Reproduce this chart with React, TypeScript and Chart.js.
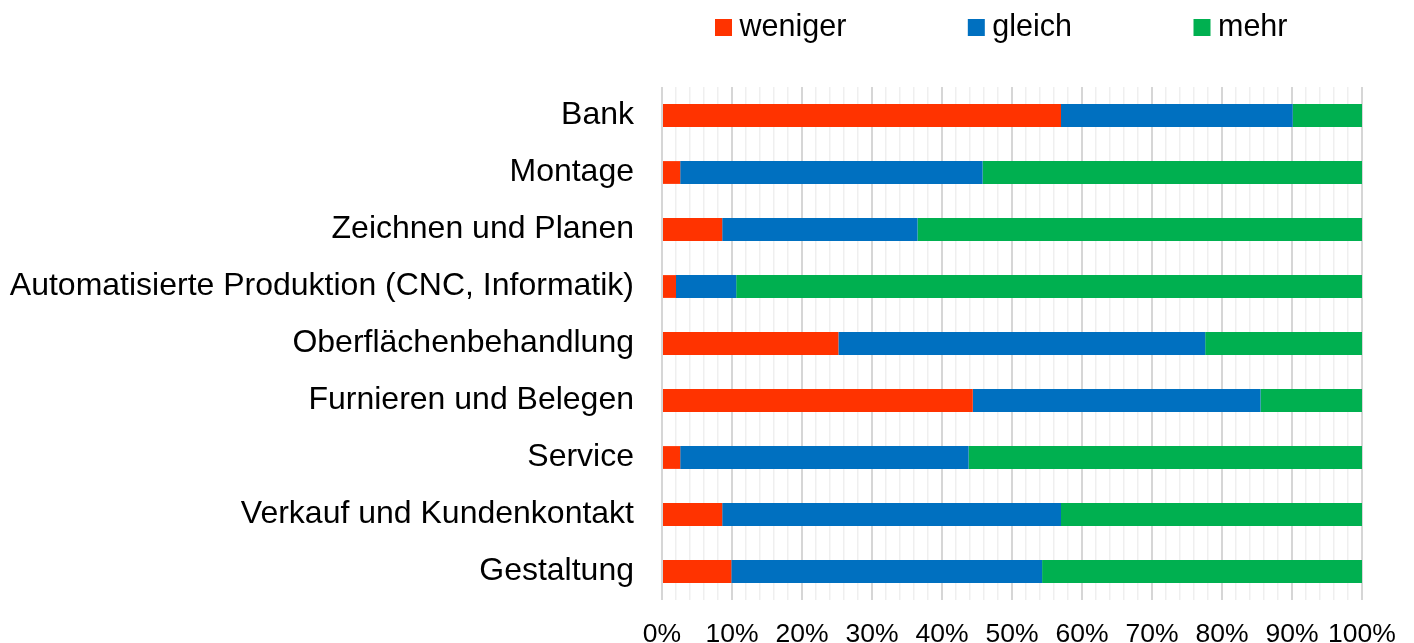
import React, { useEffect, useRef } from "react";
import { Chart, registerables } from "chart.js";

Chart.register(...registerables);

const categories = [
  "Bank",
  "Montage",
  "Zeichnen und Planen",
  "Automatisierte Produktion (CNC, Informatik)",
  "Oberflächenbehandlung",
  "Furnieren und Belegen",
  "Service",
  "Verkauf und Kundenkontakt",
  "Gestaltung",
];

const weniger = [57.0, 2.6, 8.6, 2.0, 25.2, 44.4, 2.6, 8.6, 9.9];
const gleich = [33.1, 43.2, 27.9, 8.6, 52.4, 41.1, 41.2, 48.4, 44.4];
const mehr = [9.9, 54.2, 63.5, 89.4, 22.4, 14.5, 56.2, 43.0, 45.7];

const seriesNames = ["weniger", "gleich", "mehr"];
const seriesColors = ["#FF3300", "#0070C0", "#00B050"];

const xTickLabels = ["0%", "10%", "20%", "30%", "40%", "50%", "60%", "70%", "80%", "90%", "100%"];

const FONT = "'Liberation Sans', Arial, Helvetica, sans-serif";

const customLegend = {
  id: "customLegend",
  afterDraw(chart: any) {
    const ctx = chart.ctx;
    const { left, top } = chart.chartArea;
    ctx.save();
    ctx.font = `30.5px ${FONT}`;
    ctx.textBaseline = "alphabetic";
    ctx.textAlign = "left";
    const box = 17;
    const baseY = top - 51;
    let x = left + 53;
    chart.data.datasets.forEach((ds: any) => {
      ctx.fillStyle = ds.backgroundColor;
      ctx.fillRect(x, baseY - box, box, box);
      ctx.fillStyle = "#000000";
      ctx.fillText(ds.label, x + box + 7.5, baseY);
      x += box + 7.5 + ctx.measureText(ds.label).width + 121.5;
    });
    ctx.restore();
  },
};

export default function App() {
  const canvasRef = useRef<HTMLCanvasElement | null>(null);

  useEffect(() => {
    if (!canvasRef.current) return;
    const seriesData = [weniger, gleich, mehr];
    const chart = new Chart(canvasRef.current, {
      type: "bar",
      data: {
        labels: categories,
        datasets: seriesNames.map((name, i) => ({
          label: name,
          data: seriesData[i],
          backgroundColor: seriesColors[i],
          borderWidth: 0,
          barPercentage: 0.4,
          categoryPercentage: 1.0,
        })),
      },
      options: {
        indexAxis: "y",
        responsive: false,
        animation: false,
        layout: { padding: { top: 79, right: 44, left: 0, bottom: 0 } },
        plugins: {
          legend: { display: false },
          tooltip: { enabled: false },
        },
        scales: {
          x: {
            stacked: true,
            min: 0,
            max: 100,
            ticks: {
              stepSize: 2,
              autoSkip: false,
              maxRotation: 0,
              minRotation: 0,
              padding: 19,
              color: "#000000",
              font: { family: FONT, size: 26.5 },
              callback: (v: any) => {
                const n = Number(v);
                return n % 10 === 0 ? xTickLabels[n / 10] : "";
              },
            },
            grid: {
              drawTicks: false,
              color: (c: any) => (c.tick && c.tick.value % 10 === 0 ? "#d6d6d6" : "#efefef"),
              lineWidth: (c: any) => (c.tick && c.tick.value % 10 === 0 ? 2 : 1.5),
            },
            border: { display: false },
            afterFit: (s: any) => {
              s.height = 43;
              s.paddingLeft = 0;
              s.paddingRight = 0;
            },
          },
          y: {
            stacked: true,
            ticks: {
              autoSkip: false,
              padding: 28,
              color: "#000000",
              font: { family: FONT, size: 32 },
            },
            grid: { display: false, drawTicks: false },
            border: { display: false },
            afterFit: (s: any) => {
              s.width = 654;
              s.paddingTop = 0;
              s.paddingBottom = 0;
            },
          },
        },
      },
      plugins: [customLegend],
    });
    return () => chart.destroy();
  }, []);

  return (
    <div style={{ width: 1398, height: 635 }}>
      <canvas
        ref={canvasRef}
        width={1398}
        height={635}
        style={{ display: "block", width: 1398, height: 635 }}
      />
    </div>
  );
}
